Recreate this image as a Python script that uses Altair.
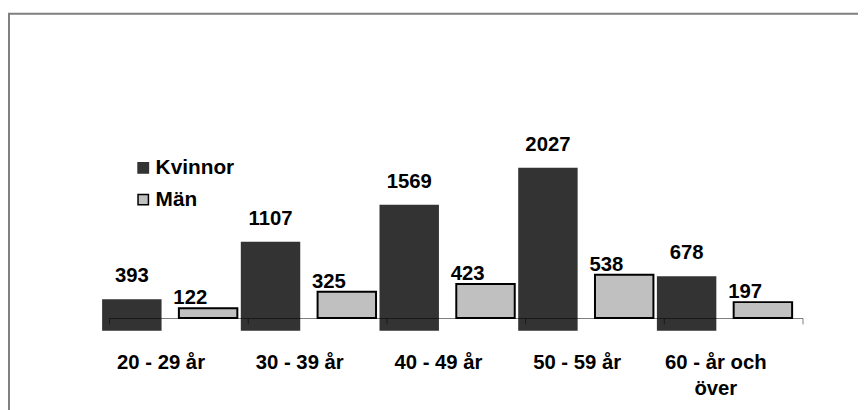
import altair as alt
import pandas as pd

groups = ["20 - 29 år", "30 - 39 år", "40 - 49 år", "50 - 59 år", "60 - år och\növer"]
kvinnor = [393, 1107, 1569, 2027, 678]
man = [122, 325, 423, 538, 197]
series = ["Kvinnor", "Män"]

df = pd.DataFrame({
    "grupp": groups * 2,
    "kon": [series[0]] * len(groups) + [series[1]] * len(groups),
    "antal": kvinnor + man,
})

FONT = "Liberation Sans"

x = alt.X("grupp:N", sort=groups, title=None,
          scale=alt.Scale(paddingInner=0, paddingOuter=0),
          axis=alt.Axis(labelExpr="split(datum.label, '\\n')", labelAngle=0,
                        labelFont=FONT, labelFontSize=20.5, labelFontWeight="bold",
                        labelColor="black", labelOffset=-18, labelPadding=45,
                        labelBaseline="alphabetic", labelLineHeight=26,
                        tickBand="extent", tickSize=6, tickColor="black", tickOpacity=0.5,
                        domainColor="black", domainOpacity=0.5, domainWidth=1.2,
                        labelFlush=False, zindex=1))
y = alt.Y("antal:Q", title=None, axis=None,
          scale=alt.Scale(domain=[0, 2500], nice=False))

color = alt.Color("kon:N", scale=alt.Scale(domain=series, range=["#333333", "#c0c0c0"]),
                  legend=alt.Legend(title=None, orient="none", legendX=24, legendY=41,
                                    symbolType="square", symbolSize=110,
                                    symbolStrokeWidth=1.5, labelFont=FONT,
                                    labelFontSize=21, labelFontWeight="bold",
                                    labelColor="black", labelOffset=2,
                                    rowPadding=10, padding=0))
stroke = alt.Stroke("kon:N", scale=alt.Scale(domain=series, range=["#333333", "black"]),
                    legend=None)

base = alt.Chart(df)

dark = base.transform_filter(alt.datum.kon == series[0]).mark_bar(
    width=60, xOffset=-47, yOffset=13, y2Offset=13, strokeWidth=0
).encode(x=x, y=y, color=color, stroke=stroke)

light = base.transform_filter(alt.datum.kon == series[1]).mark_bar(
    width=59, xOffset=30, strokeWidth=2
).encode(x=x, y=y, color=color, stroke=stroke)

text_kw = dict(font=FONT, fontSize=20.5, fontWeight="bold", color="black",
               baseline="alphabetic", dy=-4, align="center")

dark_txt = base.transform_filter(alt.datum.kon == series[0]).mark_text(
    dx=-47, **text_kw).encode(x=x, y=y, text="antal:Q")
light_txt = base.transform_filter(alt.datum.kon == series[1]).mark_text(
    dx=12, **text_kw).encode(x=x, y=y, text="antal:Q")

frame = alt.Chart(pd.DataFrame({"f": [0]})).mark_rect(
    fill=None, stroke="#808080", strokeWidth=2
).encode(x=alt.value(-101), x2=alt.value(2000), y=alt.value(-104), y2=alt.value(2000))

chart = alt.layer(frame, dark, light, dark_txt, light_txt).properties(
    width=700, height=203,
    autosize=alt.AutoSizeParams(type="none"),
    padding={"left": 102, "top": 108, "right": 56, "bottom": 91},
).configure_view(stroke=None)

chart.save("out.html", embed_options={"renderer": "svg", "actions": False})
